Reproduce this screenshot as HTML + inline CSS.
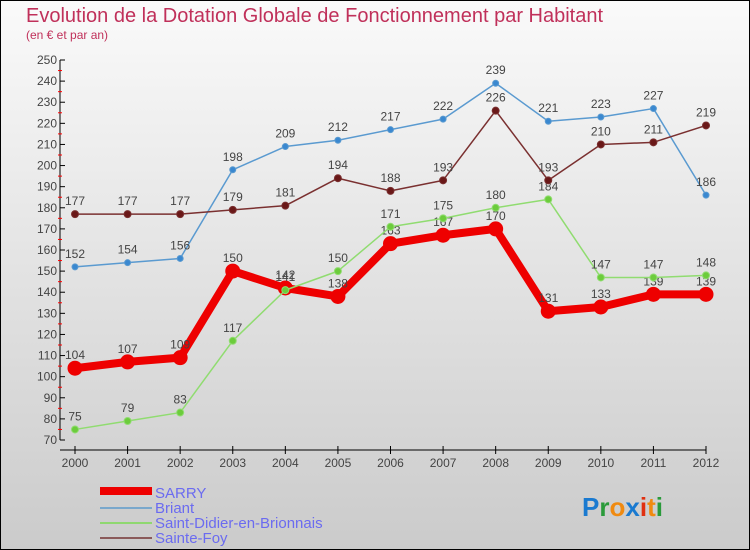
<!DOCTYPE html>
<html><head><meta charset="utf-8"><style>
body{margin:0}
#c{width:750px;height:550px;position:relative;overflow:hidden;font-family:"Liberation Sans",sans-serif}
svg text{font-family:"Liberation Sans",sans-serif}
</style></head><body>
<div id="c">
<svg id="s" width="750" height="550" xmlns="http://www.w3.org/2000/svg">
<defs><linearGradient id="bg" x1="0" y1="0" x2="0" y2="1"><stop offset="0" stop-color="#fafafa"/><stop offset="1" stop-color="#cbcbcb"/></linearGradient></defs>
<rect x="0.5" y="0.5" width="749" height="549" fill="url(#bg)" stroke="#000"/>
<text x="26" y="22" font-size="20" fill="#c0305a">Evolution de la Dotation Globale de Fonctionnement par Habitant</text>
<text x="26" y="39" font-size="12" fill="#c0305a">(en € et par an)</text>
<g id="axes"></g><g id="series"></g>
<g>
<g><rect x="100" y="487" width="52" height="8" fill="#e00"/><text x="155" y="498" font-size="15" fill="#6b6bf0">SARRY</text></g>
<g><rect x="100" y="507" width="52" height="2" fill="#7aa8cc"/><text x="155" y="513" font-size="15" fill="#6b6bf0">Briant</text></g>
<g><rect x="100" y="522" width="52" height="2" fill="#8fd870"/><text x="155" y="528" font-size="15" fill="#6b6bf0">Saint-Didier-en-Brionnais</text></g>
<g><rect x="100" y="537" width="52" height="2" fill="#8a5a5a"/><text x="155" y="543" font-size="15" fill="#6b6bf0">Sainte-Foy</text></g>
</g>
<g font-size="26" font-weight="bold">
<text x="582" y="516"><tspan fill="#1a7ad0">P</tspan><tspan fill="#2a9a3a">r</tspan><tspan fill="#f08a10">o</tspan><tspan fill="#1a7ad0">x</tspan><tspan fill="#e03010">i</tspan><tspan fill="#f08a10">t</tspan><tspan fill="#2a9a3a">i</tspan></text>
</g>
</svg></div>
<script>
const years=[2000,2001,2002,2003,2004,2005,2006,2007,2008,2009,2010,2011,2012];
const sarry=[104,107,109,150,142,138,163,167,170,131,133,139,139];
const briant=[152,154,156,198,209,212,217,222,239,221,223,227,186];
const didier=[75,79,83,117,141,150,171,175,180,184,147,147,148];
const foy=[177,177,177,179,181,194,188,193,226,193,210,211,219];
const yTicks=[70,80,90,100,110,120,130,140,150,160,170,180,190,200,210,220,230,240,250];
const NS="http://www.w3.org/2000/svg";
const X=i=>75+i*(706-75)/(years.length-1);
const Y=v=>440-(v-70)*380/180;
function el(t,a,p){const e=document.createElementNS(NS,t);for(const k in a)e.setAttribute(k,a[k]);p.appendChild(e);return e;}
const ax=document.getElementById('axes');
const yl=el('line',{x1:60,y1:Y(250),x2:60,y2:Y(70),stroke:'#000'},ax);


yTicks.forEach(v=>{
 el('line',{x1:60,x2:65,y1:Y(v),y2:Y(v),stroke:'#000'},ax);
 if(v<250) el('line',{x1:58,x2:62,y1:Y(v+5),y2:Y(v+5),stroke:'#f00'},ax);
 const t=el('text',{x:57,y:Y(v)+4,'text-anchor':'end','font-size':12,fill:'#444'},ax);t.textContent=v;
 
 
});
const xl=el('line',{x1:60,y1:450,x2:X(12),y2:450,stroke:'#000'},ax);


years.forEach((yr,i)=>{
 el('line',{x1:X(i),x2:X(i),y1:446,y2:454,stroke:'#000'},ax);
 const t=el('text',{x:X(i),y:467,'text-anchor':'middle','font-size':12,fill:'#444'},ax);t.textContent=yr;
 
 
});
const sg=document.getElementById('series');
function draw(name,vals,color,dot,w,r){
 const g=el('g',{},sg);
 
 
 el('polyline',{points:vals.map((v,i)=>X(i)+','+Y(v)).join(' '),fill:'none',stroke:color,'stroke-width':w,'stroke-linejoin':'round'},g);
 vals.forEach((v,i)=>{
  const c=el('circle',{cx:X(i),cy:Y(v),r:r,fill:dot,stroke:color,'stroke-width':1},g);
  
  
  const t=el('text',{x:X(i),y:Y(v)-9,'text-anchor':'middle','font-size':12,fill:'#444'},g);t.textContent=v;
  
  
 });
}
draw('sarry',sarry,'#e00','#e00',8,7);
draw('briant',briant,'#5a9ad0','#3a88d0',1.5,3);
draw('saint-didier',didier,'#90dc70','#6ccc3c',1.5,3.5);
draw('sainte-foy',foy,'#7a3030','#6a1818',1.5,3.5);
</script>
</body></html>
